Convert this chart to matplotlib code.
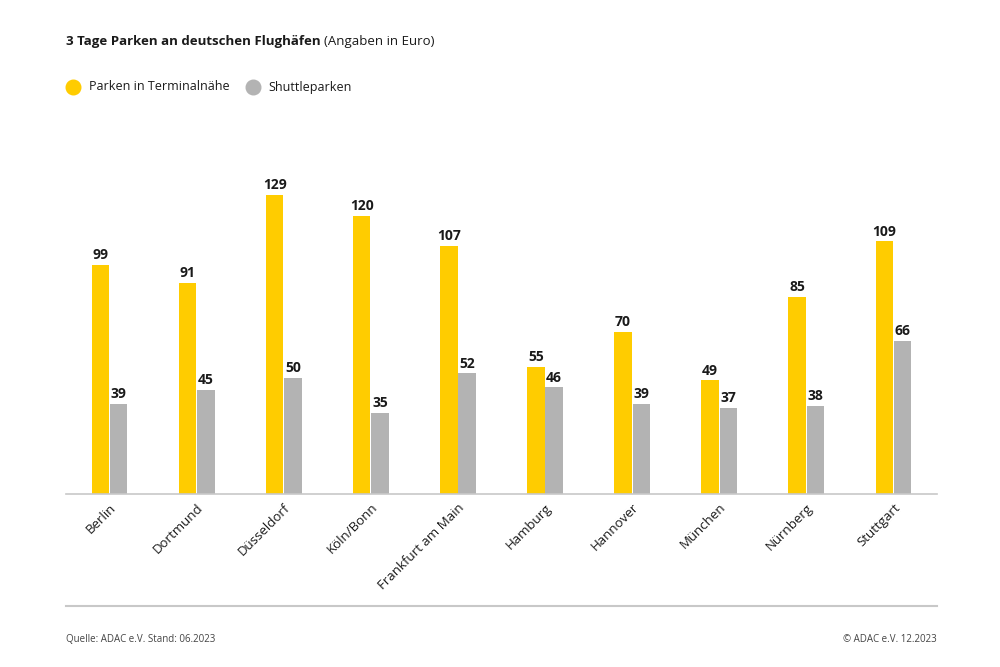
import matplotlib
matplotlib.use("Agg")
import matplotlib.pyplot as plt
from matplotlib.lines import Line2D
import numpy as np

cities = ["Berlin", "Dortmund", "Düsseldorf", "Köln/Bonn", "Frankfurt am Main",
          "Hamburg", "Hannover", "München", "Nürnberg", "Stuttgart"]
terminal = [99, 91, 129, 120, 107, 55, 70, 49, 85, 109]
shuttle = [39, 45, 50, 35, 52, 46, 39, 37, 38, 66]

YELLOW = "#FFCC00"
GRAY = "#B3B3B3"
TXT = "#1a1a1a"
FONT = "Open Sans"

plt.rcParams['font.family'] = [FONT, 'DejaVu Sans']

fig = plt.figure(figsize=(10, 6.67), dpi=100)
ax = fig.add_axes([0.066, 1 - 494 / 667, 0.871, (494 - 150) / 667])

x = np.arange(len(cities))
w = 0.2
off = 0.105
ax.bar(x - off, terminal, width=w, color=YELLOW, zorder=2)
ax.bar(x + off, shuttle, width=w, color=GRAY, zorder=2)

for xi, v in zip(x, terminal):
    ax.text(xi - off, v + 1.2, str(v), ha='center', va='bottom', fontsize=10,
            fontweight='bold', color=TXT)
for xi, v in zip(x, shuttle):
    ax.text(xi + off, v + 1.2, str(v), ha='center', va='bottom', fontsize=10,
            fontweight='bold', color=TXT)

ax.set_xlim(-0.5, 9.5)
ax.set_ylim(0, 148.4)
ax.set_yticks([])
ax.set_xticks(x)
ax.set_xticklabels(cities, rotation=45, ha='right', rotation_mode='anchor',
                   fontsize=9.5, color=TXT)
ax.tick_params(axis='x', length=0, pad=5)
for s in ['top', 'right', 'left']:
    ax.spines[s].set_visible(False)
ax.spines['bottom'].set_color('#C8C8C8')
ax.spines['bottom'].set_linewidth(1.2)

# Title
ty = 1 - 42 / 667
t1 = fig.text(66 / 1000, ty, "3 Tage Parken an deutschen Flughäfen", fontsize=9.5,
              fontweight='bold', va='center', ha='left', color=TXT)
fig.canvas.draw()
bb = t1.get_window_extent(renderer=fig.canvas.get_renderer())
fig.text(bb.x1 / 1000 + 0.003, ty, "(Angaben in Euro)", fontsize=9.5,
         va='center', ha='left', color=TXT)

# Legend
ly = 1 - 87 / 667
fig.add_artist(Line2D([73 / 1000], [ly], transform=fig.transFigure, marker='o',
                      markersize=10.5, color=YELLOW, linestyle='none'))
fig.add_artist(Line2D([253 / 1000], [ly], transform=fig.transFigure, marker='o',
                      markersize=10.5, color=GRAY, linestyle='none'))
fig.text(89 / 1000, ly, "Parken in Terminalnähe", fontsize=9,
         va='center', ha='left', color=TXT)
fig.text(268 / 1000, ly, "Shuttleparken", fontsize=9,
         va='center', ha='left', color=TXT)

# Bottom line
fig.add_artist(Line2D([66 / 1000, 937 / 1000], [1 - 606 / 667, 1 - 606 / 667],
                      transform=fig.transFigure, color='#C8C8C8', lw=1.5))

fig.text(66 / 1000, 1 - 640 / 667, "Quelle: ADAC e.V. Stand: 06.2023", fontsize=7,
         va='center', ha='left', color='#444444')
fig.text(937 / 1000, 1 - 640 / 667, "© ADAC e.V. 12.2023", fontsize=7,
         va='center', ha='right', color='#444444')

fig.savefig("out.png", dpi=100, facecolor='white')
